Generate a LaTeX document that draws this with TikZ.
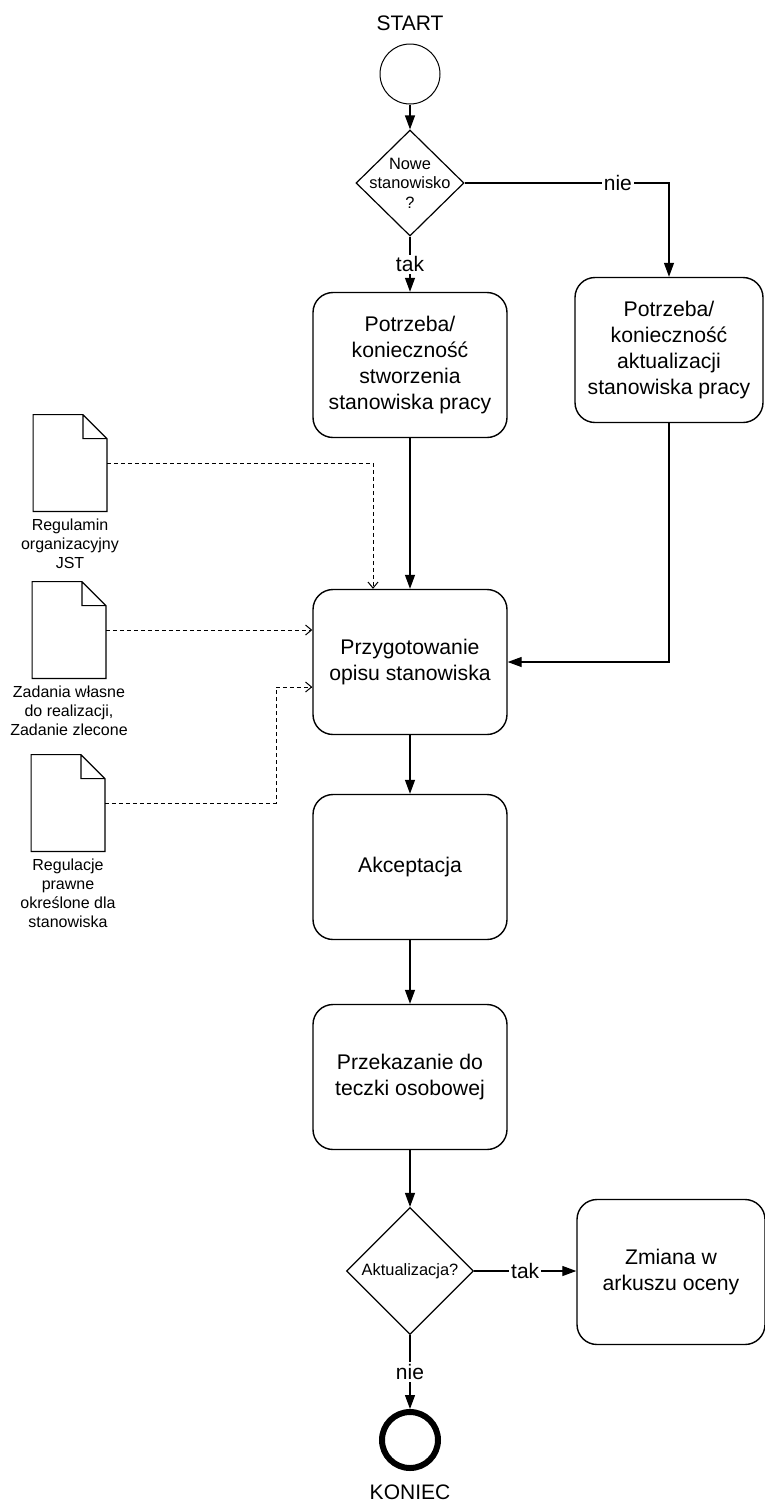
\documentclass[tikz,border=0pt]{standalone}
\usepackage{fontspec}
\setmainfont{Liberation Sans}
\usetikzlibrary{shapes.geometric,arrows.meta,positioning}

\begin{document}
\begin{tikzpicture}[x=0.5pt, y=-0.5pt,
  box/.style={draw, line width=0.7pt, rounded corners=10pt, minimum width=97pt, minimum height=72.5pt, align=center, font=\fontsize{10.6}{13}\selectfont},
  sidebox/.style={box, minimum width=94pt},
  decision/.style={draw, diamond, line width=0.6pt, inner sep=0pt},
  smalltxt/.style={font=\fontsize{8.2}{9.8}\selectfont, align=center},
  doclbl/.style={font=\fontsize{8}{9.5}\selectfont, align=center, inner sep=1pt},
  sheet/.style={minimum width=36.5pt, minimum height=48pt, inner sep=0pt},
  flow/.style={line width=0.6pt, -{Triangle[width=5pt,length=7pt]}},
  docflow/.style={line width=0.5pt, dash pattern=on 2pt off 1.5pt, -{Straight Barb[width=5pt,length=3pt]}},
  lbl/.style={fill=white, inner sep=1pt, font=\fontsize{10.5}{12}\selectfont}
]

\useasboundingbox (0,0) rectangle (765,1501);

% Start
\node[lbl] (starttxt) at (410,23) {START};
\node[draw, circle, line width=0.5pt, minimum size=30pt, inner sep=0pt] (start) at (410,74) {};

% Nowe stanowisko?
\node[decision, minimum width=54pt, minimum height=53pt,
  label={[smalltxt]center:Nowe\\stanowisko\\?}] (nowe) at (410,183) {};

% Kroki
\node[box] (potrz) at (410,365) {Potrzeba/\\konieczność\\stworzenia\\stanowiska pracy};
\node[sidebox] (aktual) at (669,350) {Potrzeba/\\konieczność\\aktualizacji\\stanowiska pracy};
\node[box] (przyg) at (410,662) {Przygotowanie\\opisu stanowiska};
\node[box] (akcept) at (410,867) {Akceptacja};
\node[box] (przek) at (410,1077) {Przekazanie do\\teczki osobowej};

% Aktualizacja?
\node[decision, minimum width=63.5pt, minimum height=63.5pt,
  label={[smalltxt]center:Aktualizacja?}] (aktq) at (410,1271) {};
\node[sidebox] (zmiana) at (671,1272) {Zmiana w\\arkuszu oceny};

% Koniec
\node[draw, circle, line width=3pt, minimum size=28pt, inner sep=0pt] (koniec) at (410,1440) {};
\node[lbl] (koniectxt) at (410,1492) {KONIEC};

% Dokumenty
\node[sheet] (doc1) at (70,463) {};
\node[sheet] (doc2) at (69,630) {};
\node[sheet] (doc3) at (68,803) {};
\foreach \d in {doc1,doc2,doc3}
  \draw[line width=0.6pt] (\d.north west) -- ([xshift=-12pt]\d.north east) -- ([yshift=-12pt]\d.north east)
    -- (\d.south east) -- (\d.south west) -- cycle
    ([xshift=-12pt]\d.north east) |- ([yshift=-12pt]\d.north east);
\node[doclbl, below=2.5pt of doc1] (doc1lbl) {Regulamin\\organizacyjny\\JST};
\node[doclbl, below=2.5pt of doc2] (doc2lbl) {Zadania własne\\do realizacji,\\Zadanie zlecone};
\node[doclbl, below=2.5pt of doc3] (doc3lbl) {Regulacje\\prawne\\określone dla\\stanowiska};

% Przebieg
\draw[flow] (start) -- (nowe);
\draw[flow] (nowe) -- node[lbl] {tak} (potrz);
\draw[flow] (nowe.east) -| node[lbl, pos=0.375] {nie} (aktual.north);
\draw[flow] (potrz) -- (przyg);
\draw[flow] (aktual.south) |- (przyg.east);
\draw[flow] (przyg) -- (akcept);
\draw[flow] (akcept) -- (przek);
\draw[flow] (przek) -- (aktq);
\draw[flow] (aktq.east) -- node[lbl] {tak} (zmiana.west |- aktq.east);
\draw[flow] (aktq) -- node[lbl] {nie} (koniec);

% Dokumenty -> opis
\coordinate (zal3) at (276,803);
\draw[docflow] (doc1.east) -| ([xshift=-18.5pt]przyg.north);
\draw[docflow] (doc2.east) -- (doc2.east -| przyg.west);
\draw[docflow] (doc3.east) -- (zal3) |- ([yshift=-12.5pt]przyg.west);

\end{tikzpicture}
\end{document}
